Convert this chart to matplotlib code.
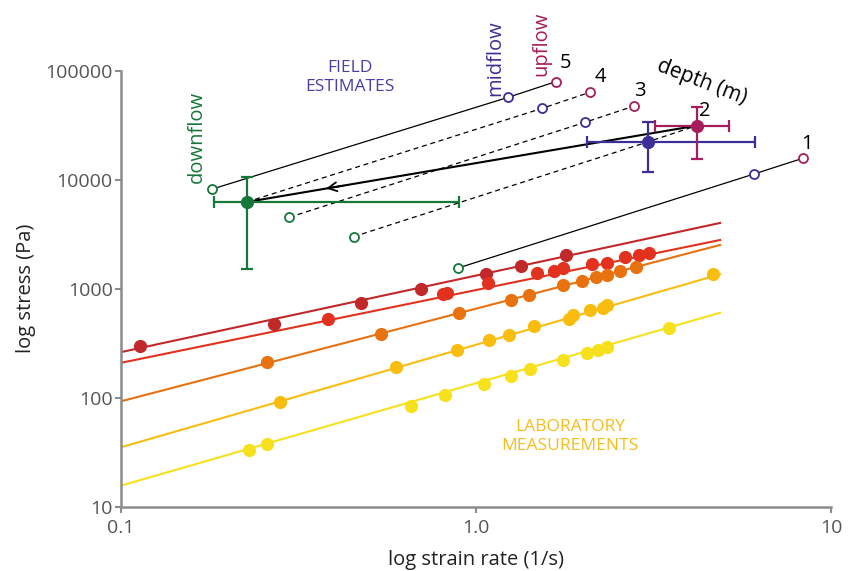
import numpy as np
import matplotlib.pyplot as plt

plt.rcParams['font.family'] = ['Open Sans', 'DejaVu Sans']

# -----------------------------
# Laboratory measurements (strain rate 1/s, stress Pa)
# -----------------------------
lab1_x = [0.113, 0.269, 0.474, 0.700, 1.065, 1.336, 1.789]
lab1_y = [300, 471, 735, 988, 1364, 1616, 2025]

lab2_x = [0.382, 0.809, 0.830, 1.079, 1.488, 1.659, 1.762, 2.122, 2.339, 2.628, 2.879, 3.077]
lab2_y = [531, 900, 919, 1121, 1384, 1453, 1558, 1674, 1732, 1941, 2038, 2113]

lab3_x = [0.257, 0.540, 0.897, 1.255, 1.408, 1.762, 1.985, 2.174, 2.334, 2.550, 2.818]
lab3_y = [211, 384, 595, 788, 875, 1081, 1177, 1288, 1336, 1453, 1572]

lab4_x = [0.281, 0.596, 0.886, 1.086, 1.236, 1.460, 1.831, 1.880, 2.099, 2.284, 2.344, 4.652]
lab4_y = [91.3, 190, 272, 338, 376, 455, 527, 574, 638, 669, 704, 1356]

lab5_x = [0.229, 0.258, 0.655, 0.819, 1.053, 1.255, 1.422, 1.762, 2.050, 2.202, 2.334, 3.489]
lab5_y = [32.9, 37.8, 84.5, 105.2, 133.6, 159.2, 182.2, 221.8, 255.5, 274, 293.8, 433]

# fitted power-law lines: stress at the two ends
fit_x = [0.1, 4.87]
fit_start = [262, 209, 92.7, 35.1, 15.6]
fit_end = [4010, 2797, 2518, 1356, 602]

lab_colors = ['#c1282a', '#e2321f', '#e8720f', '#f9bd10', '#f6e11c']

# -----------------------------
# Field estimates by depth (m)
# -----------------------------
depths = ['5', '4', '3', '2', '1']
down_x = [0.180, 0.226, 0.298, 0.452, 0.891]
down_y = [8170, 6240, 4520, 3000, 1549]
mid_x = [1.233, 1.531, 2.028, 3.058, 6.07]
mid_y = [57000, 45000, 33600, 22300, 11280]
up_x = [1.677, 2.095, 2.787, 4.18, 8.32]
up_y = [79300, 63400, 47400, 31300, 15700]
depth_dashed = [False, True, True, True, False]

# mean estimates with ranges (index into arrays above)
down_idx, mid_idx, up_idx = 1, 3, 3
down_xerr = [0.183, 0.896]
down_yerr = [1517, 10590]
mid_xerr = [2.051, 6.11]
mid_yerr = [11700, 34000]
up_xerr = [3.19, 5.16]
up_yerr = [15600, 46800]

green = '#16773a'
blue = '#3a2f96'
magenta = '#a61d5c'

fig = plt.figure(figsize=(8.56, 5.71), dpi=100)
ax = fig.add_axes([0.1414, 0.1126, 0.8294, 0.7636])
ax.set_xscale('log')
ax.set_yscale('log')

# lab fits and points
for c, y0, y1 in zip(lab_colors, fit_start, fit_end):
    ax.plot(fit_x, [y0, y1], color=c, lw=1.5, zorder=2)
for c, xs, ys in zip(lab_colors, [lab1_x, lab2_x, lab3_x, lab4_x, lab5_x],
                     [lab1_y, lab2_y, lab3_y, lab4_y, lab5_y]):
    ax.plot(xs, ys, 'o', color=c, ms=9.5, mec='none', zorder=3)

# depth lines
for i in range(len(depths)):
    ls = (0, (4, 3)) if depth_dashed[i] else '-'
    ax.plot([down_x[i], mid_x[i], up_x[i]], [down_y[i], mid_y[i], up_y[i]],
            color='black', lw=0.9, ls=ls, zorder=4)

# open circles
for xs, ys, c, idx in [(down_x, down_y, green, down_idx),
                       (mid_x, mid_y, blue, mid_idx),
                       (up_x, up_y, magenta, up_idx)]:
    ox = [v for j, v in enumerate(xs) if j != idx]
    oy = [v for j, v in enumerate(ys) if j != idx]
    ax.plot(ox, oy, 'o', ms=6.5, mfc='white', mec=c, mew=1.3, zorder=6)

# thick line from upflow mean to downflow mean, with arrow
ax.plot([up_x[up_idx], down_x[down_idx]], [up_y[up_idx], down_y[down_idx]],
        color='black', lw=1.5, zorder=5)
lx = np.log10([up_x[up_idx], down_x[down_idx]])
ly = np.log10([up_y[up_idx], down_y[down_idx]])
t0, t1 = 0.78, 0.83
ax.annotate('', xy=(10 ** (lx[0] + t1 * (lx[1] - lx[0])), 10 ** (ly[0] + t1 * (ly[1] - ly[0]))),
            xytext=(10 ** (lx[0] + t0 * (lx[1] - lx[0])), 10 ** (ly[0] + t0 * (ly[1] - ly[0]))),
            arrowprops=dict(arrowstyle='->', color='black', lw=1.3, mutation_scale=16), zorder=5)

# error bars and mean points
for xs, ys, idx, xr, yr, c in [(down_x, down_y, down_idx, down_xerr, down_yerr, green),
                               (mid_x, mid_y, mid_idx, mid_xerr, mid_yerr, blue),
                               (up_x, up_y, up_idx, up_xerr, up_yerr, magenta)]:
    cx, cy = xs[idx], ys[idx]
    ax.errorbar([cx], [cy], xerr=[[cx - xr[0]], [xr[1] - cx]], yerr=[[cy - yr[0]], [yr[1] - cy]],
                fmt='o', color=c, ms=8.5, elinewidth=1.6, capsize=4, capthick=1.6, zorder=7)

# labels
ax.text(0.4416, 85700, 'FIELD\nESTIMATES', color='#4a3fa3', fontsize=12.5, ha='center',
        va='center', linespacing=1.25)
ax.text(1.84, 44.5, 'LABORATORY\nMEASUREMENTS', color='#f7bd1b', fontsize=12.5, ha='center',
        va='center', linespacing=1.25)
ax.text(0.1637, 24650, 'downflow', color=green, fontsize=14.5, rotation=90, ha='center', va='center')
ax.text(1.13, 130000, 'midflow', color=blue, fontsize=14.5, rotation=90, ha='center', va='center',
        clip_on=False)
ax.text(1.524, 178000, 'upflow', color=magenta, fontsize=14.5, rotation=90, ha='center', va='center',
        clip_on=False)
ax.text(4.325, 77900, 'depth (m)', color='black', fontsize=15, rotation=-21, ha='center', va='center')
num_x = [1.781, 2.244, 2.897, 4.416, 8.577]
num_y = [116900, 86960, 65600, 42700, 21250]
for s, nx, ny in zip(depths, num_x, num_y):
    ax.text(nx, ny, s, fontsize=14.5, ha='center', va='center', color='black', clip_on=False)

# axes styling
ax.set_xlim(0.1, 10)
ax.set_ylim(10, 100000)
ax.spines['top'].set_visible(False)
ax.spines['right'].set_visible(False)
for s in ['left', 'bottom']:
    ax.spines[s].set_color('#8c8c8c')
    ax.spines[s].set_linewidth(1.8)
ax.set_xticks([0.1, 1, 10])
ax.set_xticklabels(['0.1', '1.0', '10'])
ax.set_yticks([10, 100, 1000, 10000, 100000])
ax.set_yticklabels(['10', '100', '1000', '10000', '100000'])
ax.minorticks_off()
ax.tick_params(length=4, width=1.5, color='#8c8c8c', labelcolor='#555555', labelsize=14)
ax.tick_params(axis='x', pad=5)
ax.tick_params(axis='y', pad=2)
ax.set_xlabel('log strain rate (1/s)', fontsize=14.5, color='#222222', labelpad=9)
ax.set_ylabel('log stress (Pa)', fontsize=14.5, color='#222222', labelpad=7)

fig.savefig('out.png', dpi=100)
